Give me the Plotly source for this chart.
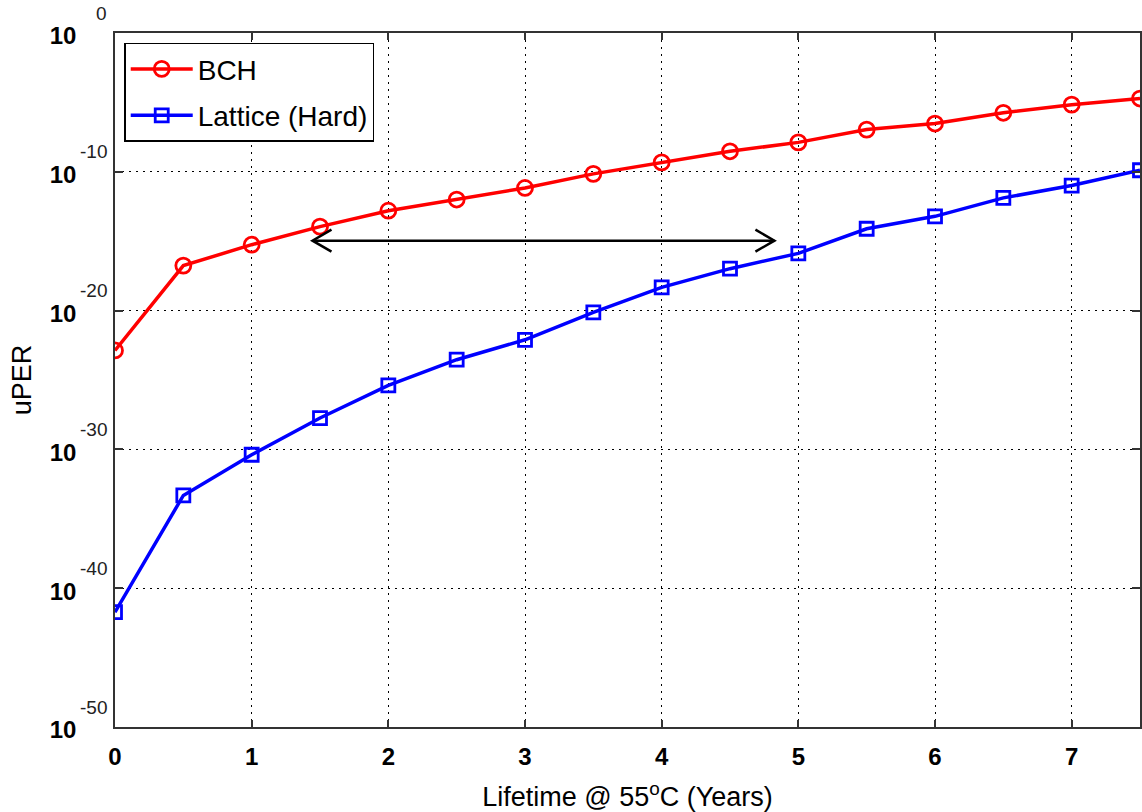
import math
import plotly.graph_objects as go

years = [0, 0.5, 1, 1.5, 2, 2.5, 3, 3.5, 4, 4.5, 5, 5.5, 6, 6.5, 7, 7.5]
bch_uper = [1.35e-23, 1.74e-17, 5.6e-16, 1.12e-14, 1.58e-13, 1.0e-12, 6.9e-12, 7.1e-11,
            4.8e-10, 3.0e-9, 1.32e-8, 1.10e-7, 3.0e-7, 1.78e-6, 6.9e-6, 1.9e-5]
lattice_uper = [1.86e-42, 4.8e-34, 4.1e-31, 1.82e-28, 4.1e-26, 2.9e-24, 7.9e-23, 7.4e-21,
                4.7e-19, 1.05e-17, 1.32e-16, 7.9e-15, 6.2e-14, 1.32e-12, 1.02e-11, 1.29e-10]

x_ticks = [0, 1, 2, 3, 4, 5, 6, 7]
y_exponents = [0, -10, -20, -30, -40, -50]
y_tick_vals = [1e0, 1e-10, 1e-20, 1e-30, 1e-40, 1e-50]

arrow_x_start = 1.445
arrow_x_end = 4.825
arrow_y = 1.1e-15

FONT = "Liberation Sans, Arial, Helvetica, sans-serif"

fig = go.Figure()
fig.add_trace(go.Scatter(
    x=years, y=bch_uper, name="BCH", mode="lines+markers",
    line=dict(color="#ff0000", width=3.5),
    marker=dict(symbol="circle-open", size=15, color="#ff0000", line=dict(width=2.8)),
    legendgroup="a",
))
fig.add_trace(go.Scatter(
    x=years, y=lattice_uper, name="Lattice (Hard)", mode="lines+markers",
    line=dict(color="#0000ff", width=3.5),
    marker=dict(symbol="square-open", size=13, color="#0000ff", line=dict(width=2.8)),
    legendgroup="b",
))

# double-headed arrow: shaft (annotation) + open chevron heads (pixel-sized shapes)
arrow_ylog = math.log10(arrow_y)
fig.add_annotation(
    x=arrow_x_end, y=arrow_ylog, ax=arrow_x_start, ay=arrow_ylog,
    xref="x", yref="y", axref="x", ayref="y",
    text="", showarrow=True, arrowhead=0, arrowwidth=2.5, arrowcolor="black",
    standoff=0, startstandoff=0,
)
fig.add_shape(type="path", xref="x", yref="y",
              xsizemode="pixel", ysizemode="pixel",
              xanchor=arrow_x_start, yanchor=arrow_y,
              path="M 19 11 L 0 0 L 19 -11",
              line=dict(color="black", width=2.5))
fig.add_shape(type="path", xref="x", yref="y",
              xsizemode="pixel", ysizemode="pixel",
              xanchor=arrow_x_end, yanchor=arrow_y,
              path="M -19 11 L 0 0 L -19 -11",
              line=dict(color="black", width=2.5))

for e in y_exponents:
    fig.add_annotation(
        x=0, y=e, xref="paper", yref="y", xanchor="right", yanchor="middle",
        xshift=-6, yshift=20, text=str(e), showarrow=False,
        font=dict(family=FONT, size=19, color="#222"),
    )

fig.update_layout(
    width=1142, height=812,
    margin=dict(l=115, r=0, t=33, b=85),
    paper_bgcolor="white", plot_bgcolor="white",
    font=dict(family=FONT, color="black"),
    showlegend=True,
    legend=dict(
        x=0.009, y=0.986, xanchor="left", yanchor="top",
        bgcolor="white", bordercolor="black", borderwidth=1.5,
        font=dict(family=FONT, size=28, color="black"),
        tracegroupgap=7, traceorder="grouped", itemwidth=62,
    ),
)

fig.update_xaxes(
    range=[0, 7.5], tickvals=x_ticks, ticktext=[f"<b>{v}</b>" for v in x_ticks],
    tickfont=dict(family=FONT, size=24, color="black"),
    ticks="inside", ticklen=7, tickwidth=1.5, tickcolor="#333",
    showline=True, linecolor="#333", linewidth=1.5, mirror="ticks",
    showgrid=True, gridcolor="black", gridwidth=1, griddash="2px,5px",
    zeroline=False, ticklabelstandoff=7,
    title=dict(text="Lifetime @ 55<sup>o</sup>C (Years)", font=dict(family=FONT, size=27, color="black"), standoff=19),
)
fig.update_yaxes(
    type="log", range=[-50, 0], tickvals=y_tick_vals,
    ticktext=["<b>10</b>" for _ in y_tick_vals],
    tickfont=dict(family=FONT, size=24, color="black"),
    ticks="inside", ticklen=8, tickwidth=1.5, tickcolor="#333",
    showline=True, linecolor="#333", linewidth=1.5, mirror="ticks",
    showgrid=True, gridcolor="black", gridwidth=1, griddash="2px,5px",
    zeroline=False, ticklabelstandoff=32, ticklabelshift=3,
    title=dict(text="uPER", font=dict(family=FONT, size=27, color="black"), standoff=10),
)

fig.write_html("out.html")
